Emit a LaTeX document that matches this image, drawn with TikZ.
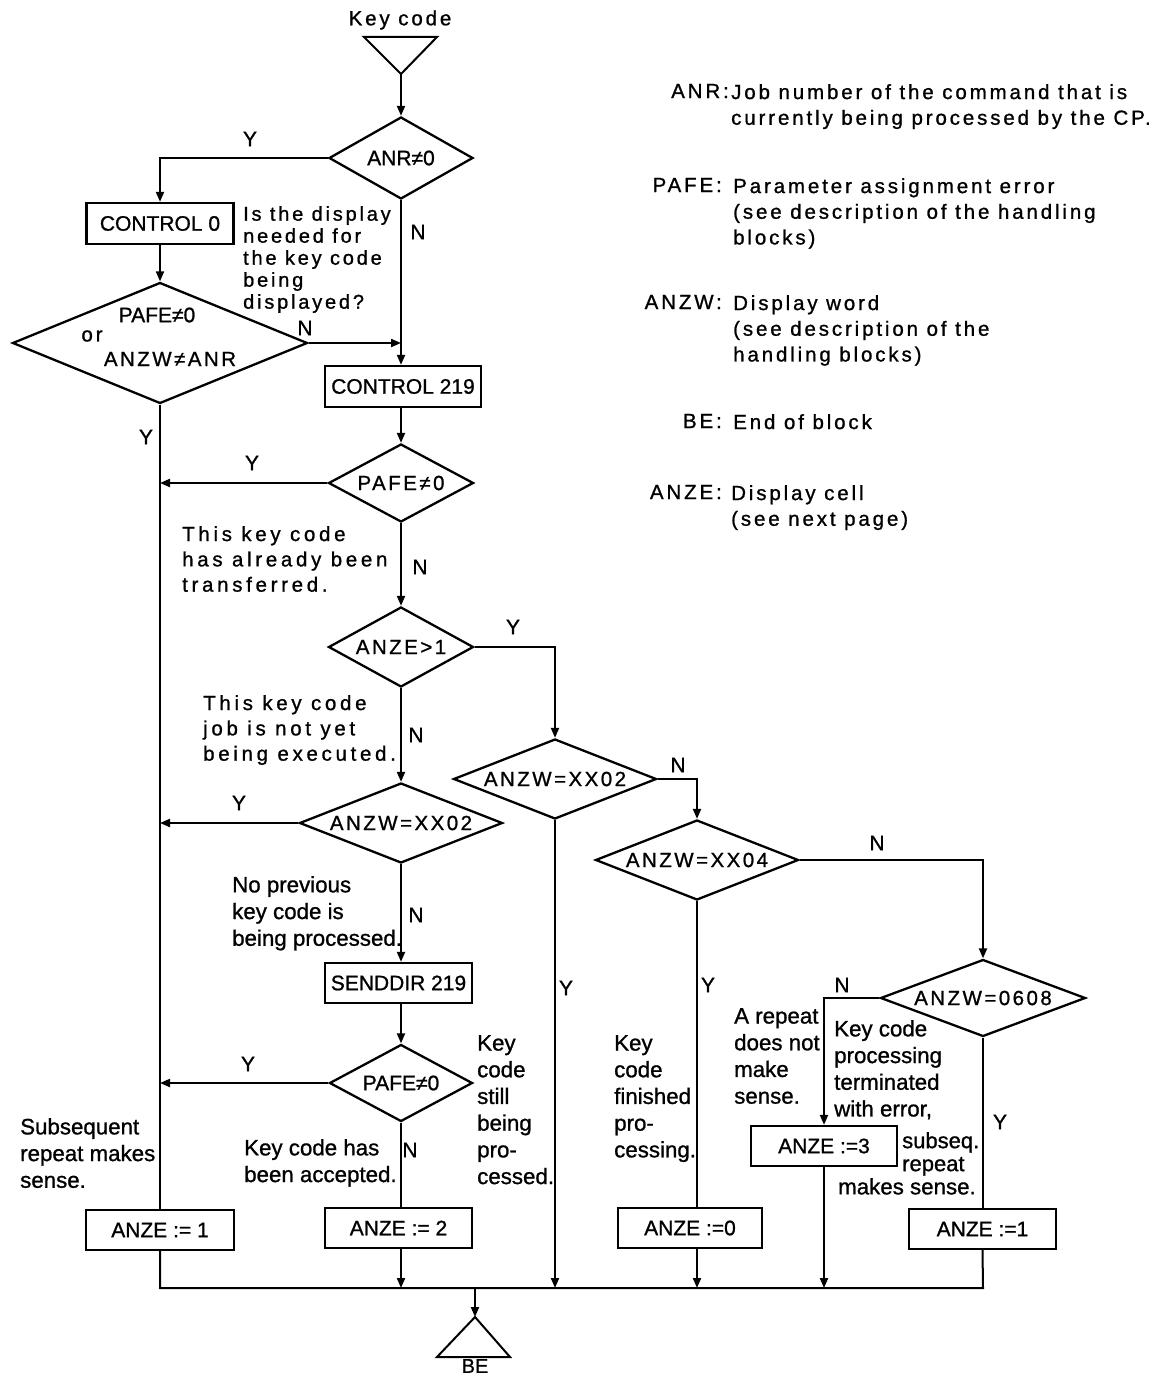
\documentclass[tikz,border=0pt]{standalone}
\usepackage{fontspec}
\setmainfont[FakeBold=1]{Liberation Sans}
\newfontfamily\spcfam[LetterSpace=14,FakeBold=1]{Liberation Sans}
\newfontfamily\wspcfam[LetterSpace=18,FakeBold=1]{Liberation Sans}
\newfontfamily\diafam[LetterSpace=12,FakeBold=1]{Liberation Sans}
\usetikzlibrary{shapes.geometric,arrows.meta}
\newcommand{\myNorm}{\fontsize{21}{26.7}\selectfont}
\newcommand{\myCom}{\fontsize{22.3}{26.7}\selectfont}
\newcommand{\mySpc}{\spcfam\fontsize{20.5}{25.7}\selectfont}
\newcommand{\myWSpc}{\wspcfam\fontsize{20.5}{25.3}\selectfont}
\newcommand{\myDia}{\diafam\fontsize{20.5}{24}\selectfont}
\tikzset{
  ln/.style={line width=2pt},
  arr/.style={line width=2pt,-{Triangle[length=10pt,width=8pt]}},
  box/.style={draw,line width=2.3pt,inner sep=0pt,font=\myNorm},
  dia/.style={draw,diamond,line width=2.3pt,inner sep=0pt,font=\myDia},
  dsz/.style n args={3}{minimum width=#1pt,minimum height=#2pt,shape aspect=#3},
  yn/.style={inner sep=0pt,font=\myNorm},
  ntxt/.style={inner sep=0pt,align=left,anchor=north west,font=\myCom},
  stxt/.style={inner sep=0pt,align=left,anchor=north west,font=\mySpc},
  leg/.style={inner sep=0pt,font=\mySpc},
}
\begin{document}
\begin{tikzpicture}[x=1pt,y=-1pt]
\useasboundingbox (0,0) rectangle (1175,1375);

% start triangle
\node[leg] (kc) at (400,20) {Key code};
\coordinate (kl) at (364,37);
\coordinate (kr) at (437,37);
\coordinate (ktip) at (401,74);
\draw[ln,line join=miter] (kl) -- (kr) -- (ktip) -- cycle;

% nodes
\node[dia,dsz={144}{82}{1.756},font=\myNorm] (anr) at (401,158) {ANR≠0};
\node[box,minimum width=147pt,minimum height=41pt] (ctrl0) at (160,223.5) {CONTROL 0};
\node[dia,dsz={295}{121}{2.438}] (po) at (160,343) {};
\node[yn,font=\myNorm] (po1) at (157,315) {PAFE≠0};
\node[yn,font=\mySpc] (po2) at (92,336) {or};
\node[yn,font=\myDia] (po3) at (170,359) {ANZW≠ANR};
\node[box,minimum width=156pt,minimum height=41pt] (c219) at (403,386.5) {CONTROL 219};
\node[dia,dsz={145}{78}{1.859}] (pafe1) at (401,483) {PAFE≠0};
\node[dia,dsz={145}{80}{1.8125}] (anzeg) at (401,647) {ANZE>1};
\node[dia,dsz={203}{80}{2.5375}] (xa) at (401,823) {ANZW=XX02};
\node[box,minimum width=147pt,minimum height=40pt] (sd) at (398.5,983) {SENDDIR 219};
\node[dia,dsz={143}{77}{1.857},font=\myNorm] (pafe2) at (401,1083) {PAFE≠0};
\node[box,minimum width=147pt,minimum height=40pt] (a2) at (398.5,1228) {ANZE := 2};
\node[box,minimum width=148pt,minimum height=40pt] (a1L) at (160,1230) {ANZE := 1};
\node[dia,dsz={203}{80}{2.5375}] (xb) at (555,779) {ANZW=XX02};
\node[dia,dsz={203}{80}{2.5375}] (x4) at (697,860) {ANZW=XX04};
\node[box,minimum width=144pt,minimum height=40pt] (a0) at (690,1228) {ANZE :=0};
\node[dia,dsz={205}{77}{2.662}] (d608) at (983,998) {ANZW=0608};
\node[box,minimum width=146pt,minimum height=40pt] (a3) at (824,1146) {ANZE :=3};
\node[box,minimum width=147pt,minimum height=40pt] (a1R) at (982.5,1229) {ANZE :=1};

% connectors
\coordinate (busL) at (160,1288);
\coordinate (busR) at (983,1288);
\draw[arr] (ktip) -- (anr.north);
\draw[arr] (anr.west) -| (ctrl0.north);
\draw[arr] (ctrl0.south) -- (po.north);
\draw[arr] (anr.south) -- (anr.south |- c219.north);
\draw[arr] (po.east) -- (po.east -| anr.south);
\draw[arr] (c219.south -| pafe1.north) -- (pafe1.north);
\draw[arr] (pafe1.west) -- (pafe1.west -| po.south);
\draw[arr] (pafe1.south) -- (anzeg.north);
\draw[arr] (anzeg.east) -| (xb.north);
\draw[arr] (anzeg.south) -- (xa.north);
\draw[arr] (xa.west) -- (xa.west -| po.south);
\draw[arr] (xa.south) -- (xa.south |- sd.north);
\draw[arr] (sd.south -| pafe2.north) -- (pafe2.north);
\draw[arr] (pafe2.west) -- (pafe2.west -| po.south);
\draw[ln] (pafe2.south) -- (pafe2.south |- a2.north);
\draw[ln] (po.south) -- (a1L.north);
\draw[ln] (a1L.south) -- (busL) -- (busR) -- (a1R.south);
\draw[arr] (pafe2.south |- a2.south) -- (pafe2.south |- busL);
\draw[arr] (xb.south) -- (xb.south |- busL);
\draw[arr] (xb.east) -| (x4.north);
\draw[arr] (x4.east) -| (d608.north);
\draw[ln] (x4.south) -- (x4.south |- a0.north);
\draw[arr] (x4.south |- a0.south) -- (x4.south |- busL);
\draw[arr] (d608.west) -| (a3.north);
\draw[arr] (a3.south) -- (a3.south |- busL);
\draw[ln] (d608.south) -- (d608.south |- a1R.north);

% end triangle
\coordinate (beapex) at (475,1317);
\coordinate (bel) at (437,1357);
\coordinate (ber) at (510,1357);
\draw[arr] (busL -| beapex) -- (beapex);
\draw[ln,line join=miter] (beapex) -- (bel) -- (ber) -- cycle;
\node[yn,font=\fontsize{20}{22}\selectfont] (be) at (475,1366) {BE};

% Y / N labels
\node[yn] (l1) at (250,139) {Y};
\node[yn] (l2) at (418,232) {N};
\node[yn] (l3) at (305,328) {N};
\node[yn] (l4) at (146,437) {Y};
\node[yn] (l5) at (252,463) {Y};
\node[yn] (l6) at (420,567) {N};
\node[yn] (l7) at (513,627) {Y};
\node[yn] (l8) at (416,735) {N};
\node[yn] (l9) at (678,765) {N};
\node[yn] (l10) at (239,803) {Y};
\node[yn] (l11) at (877,843) {N};
\node[yn] (l12) at (416,915) {N};
\node[yn] (l13) at (566,988) {Y};
\node[yn] (l14) at (708,985) {Y};
\node[yn] (l15) at (842,985) {N};
\node[yn] (l16) at (248,1064) {Y};
\node[yn] (l17) at (410,1150) {N};
\node[yn] (l18) at (1000,1122) {Y};

% comments
\node[stxt,font=\spcfam\fontsize{20}{22}\selectfont] (c1) at (243,206) {Is the display\\needed for\\the key code\\being\\displayed?};
\node[stxt,font=\myWSpc] (c2) at (182,526) {This key code\\has already been\\transferred.};
\node[stxt,font=\myWSpc] (c3) at (203,695) {This key code\\job is not yet\\being executed.};
\node[ntxt] (c4) at (232,876) {No previous\\key code is\\being processed.};
\node[ntxt] (c5) at (477,1035) {Key\\code\\still\\being\\pro-\\cessed.};
\node[ntxt] (c6) at (244,1139) {Key code has\\been accepted.};
\node[ntxt] (c7) at (20,1118) {Subsequent\\repeat makes\\sense.};
\node[ntxt] (c8) at (614,1035) {Key\\code\\finished\\pro-\\cessing.};
\node[ntxt] (c9) at (734,1008) {A repeat\\does not\\make\\sense.};
\node[ntxt] (c10) at (834,1020) {Key code\\processing\\terminated\\with error,};
\node[ntxt,font=\fontsize{22}{23}\selectfont] (c11) at (902,1132) {subseq.\\repeat};
\node[ntxt] (c12) at (838,1178) {makes sense.};

% legend
\node[leg,anchor=east] (kANR) at (729,91) {ANR:};
\node[stxt] (dANR) at (731,84) {Job number of the command that is\\currently being processed by the CP.};
\node[leg,anchor=east] (kPAFE) at (722,185) {PAFE:};
\node[stxt] (dPAFE) at (733,178) {Parameter assignment error\\(see description of the handling\\blocks)};
\node[leg,anchor=east] (kANZW) at (722,302) {ANZW:};
\node[stxt] (dANZW) at (733,295) {Display word\\(see description of the\\handling blocks)};
\node[leg,anchor=east] (kBE) at (722,421) {BE:};
\node[stxt] (dBE) at (733,414) {End of block};
\node[leg,anchor=east] (kANZE) at (722,492) {ANZE:};
\node[stxt] (dANZE) at (731,485) {Display cell\\(see next page)};
\end{tikzpicture}
\end{document}
